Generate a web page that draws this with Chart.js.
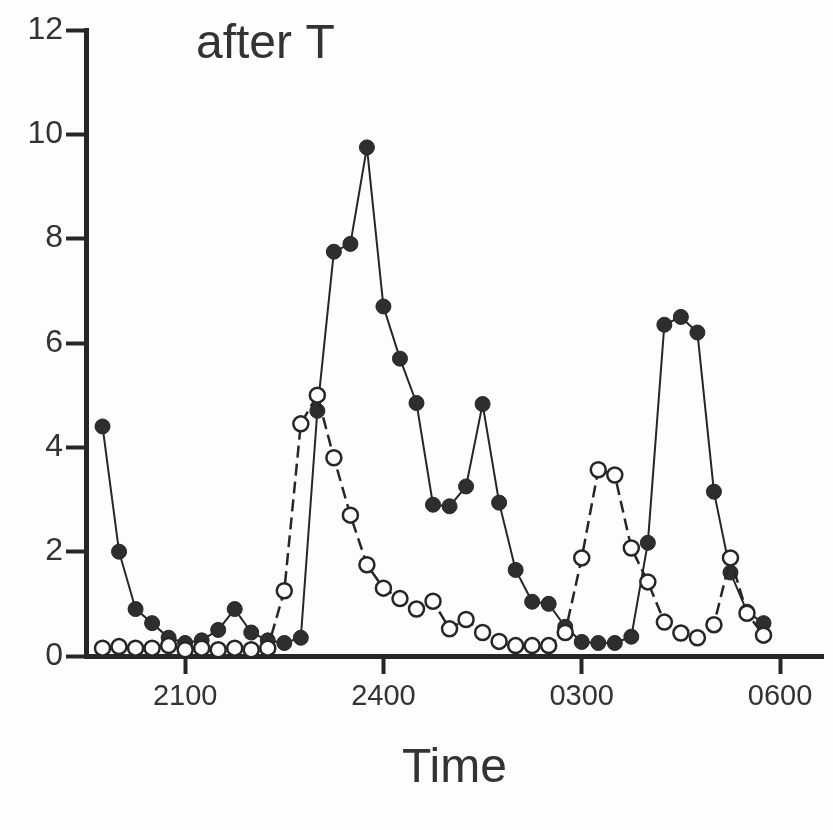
<!DOCTYPE html>
<html>
<head>
<meta charset="utf-8">
<script src="https://cdn.jsdelivr.net/npm/chart.js@4"></script>
<style>
  body { margin: 0; background: #fdfdfd; }
  #wrap { width: 833px; height: 830px; }
</style>
</head>
<body>
<div id="wrap"><canvas id="myChart" width="833" height="830"></canvas></div>
<script>
// sampling times, every 15 min through the night
var times = ['19:45','20:00','20:15','20:30','20:45','21:00','21:15','21:30','21:45',
             '22:00','22:15','22:30','22:45','23:00','23:15','23:30','23:45','24:00',
             '00:15','00:30','00:45','01:00','01:15','01:30','01:45','02:00','02:15',
             '02:30','02:45','03:00','03:15','03:30','03:45','04:00','04:15','04:30',
             '04:45','05:00','05:15','05:30','05:45'];

// filled circles, solid line
var filledValues = [4.4, 2.0, 0.9, 0.63, 0.35, 0.25, 0.3, 0.5, 0.9, 0.45, 0.3, 0.25, 0.35,
                    4.7, 7.75, 7.9, 9.75, 6.7, 5.7, 4.85, 2.9, 2.87, 3.25, 4.83, 2.94, 1.65,
                    1.04, 1.0, 0.56, 0.27, 0.25, 0.25, 0.37, 2.17, 6.35, 6.5, 6.2, 3.15, 1.6,
                    0.85, 0.63];

// open circles, dashed line
var openValues = [0.15, 0.18, 0.15, 0.15, 0.2, 0.12, 0.15, 0.12, 0.15, 0.12, 0.15, 1.25, 4.45,
                  5.0, 3.8, 2.7, 1.75, 1.3, 1.1, 0.9, 1.05, 0.52, 0.7, 0.45, 0.28, 0.2, 0.2,
                  0.2, 0.45, 1.88, 3.57, 3.47, 2.07, 1.42, 0.65, 0.44, 0.35, 0.6, 1.88, 0.82,
                  0.4];

var tickHours = [21, 24, 27, 30];
var tickLabels = ['2100', '2400', '0300', '0600'];

// hours since the start of the evening (after midnight -> +24)
function toHours(t) {
    var p = t.split(':');
    var h = parseInt(p[0], 10) + parseInt(p[1], 10) / 60;
    if (h < 12) h += 24;
    return h;
}

function pairUp(vals) {
    return vals.map(function(v, i) {
        return { x: toHours(times[i]), y: v };
    });
}

var ink = '#262626';

var paperBg = {
    id: 'paperBg',
    beforeDraw: function(chart) {
        var c = chart.ctx;
        c.save();
        c.fillStyle = '#fdfdfd';
        c.fillRect(0, 0, chart.width, chart.height);
        c.restore();
    }
};

var panelLabel = {
    id: 'panelLabel',
    afterDraw: function(chart) {
        var c = chart.ctx;
        c.save();
        c.fillStyle = '#333';
        c.font = '48px "Liberation Sans", Arial, sans-serif';
        c.textBaseline = 'alphabetic';
        c.fillText('after T', 196, 58);
        c.restore();
    }
};

var ctx = document.getElementById('myChart').getContext('2d');
var chart = new Chart(ctx, {
    type: 'line',
    data: {
        datasets: [{
            label: 'open',
            data: pairUp(openValues),
            borderColor: ink,
            borderWidth: 2.5,
            borderDash: [12, 6],
            pointRadius: 7.5,
            pointBorderWidth: 2.5,
            pointBackgroundColor: '#fdfdfd',
            pointBorderColor: ink,
            tension: 0,
            order: 0
        }, {
            label: 'filled',
            data: pairUp(filledValues),
            borderColor: ink,
            borderWidth: 2,
            pointRadius: 7.5,
            pointBorderWidth: 1,
            pointBackgroundColor: '#2e2e2e',
            pointBorderColor: ink,
            tension: 0,
            order: 1
        }]
    },
    options: {
        responsive: false,
        animation: false,
        layout: { padding: { top: 30, right: 0, bottom: 0, left: 0 } },
        plugins: {
            legend: { display: false },
            tooltip: { enabled: false }
        },
        scales: {
            x: {
                type: 'linear',
                min: 19.5,
                max: 30.65,
                afterBuildTicks: function(scale) {
                    scale.ticks = tickHours.map(function(h) { return { value: h }; });
                },
                afterFit: function(scale) { scale.height = 174; },
                ticks: {
                    autoSkip: false,
                    maxRotation: 0,
                    padding: 6,
                    color: '#333',
                    font: { family: '"Liberation Sans", Arial, sans-serif', size: 29 },
                    callback: function(v) {
                        var k = tickHours.indexOf(v);
                        return k >= 0 ? tickLabels[k] : '';
                    }
                },
                grid: {
                    drawOnChartArea: false,
                    drawTicks: true,
                    tickLength: 18,
                    tickWidth: 4,
                    tickColor: ink
                },
                border: { display: true, color: ink, width: 5 },
                title: {
                    display: true,
                    text: 'Time',
                    color: '#333',
                    font: { family: '"Liberation Sans", Arial, sans-serif', size: 48 },
                    padding: { top: 0, bottom: 32 }
                }
            },
            y: {
                min: 0,
                max: 12,
                afterFit: function(scale) { scale.width = 86; },
                ticks: {
                    stepSize: 2,
                    padding: 3,
                    color: '#333',
                    font: { family: '"Liberation Sans", Arial, sans-serif', size: 32 }
                },
                grid: {
                    drawOnChartArea: false,
                    drawTicks: true,
                    tickLength: 20,
                    tickWidth: 4,
                    tickColor: ink
                },
                border: { display: true, color: ink, width: 5 }
            }
        }
    },
    plugins: [paperBg, panelLabel]
});
</script>
</body>
</html>
